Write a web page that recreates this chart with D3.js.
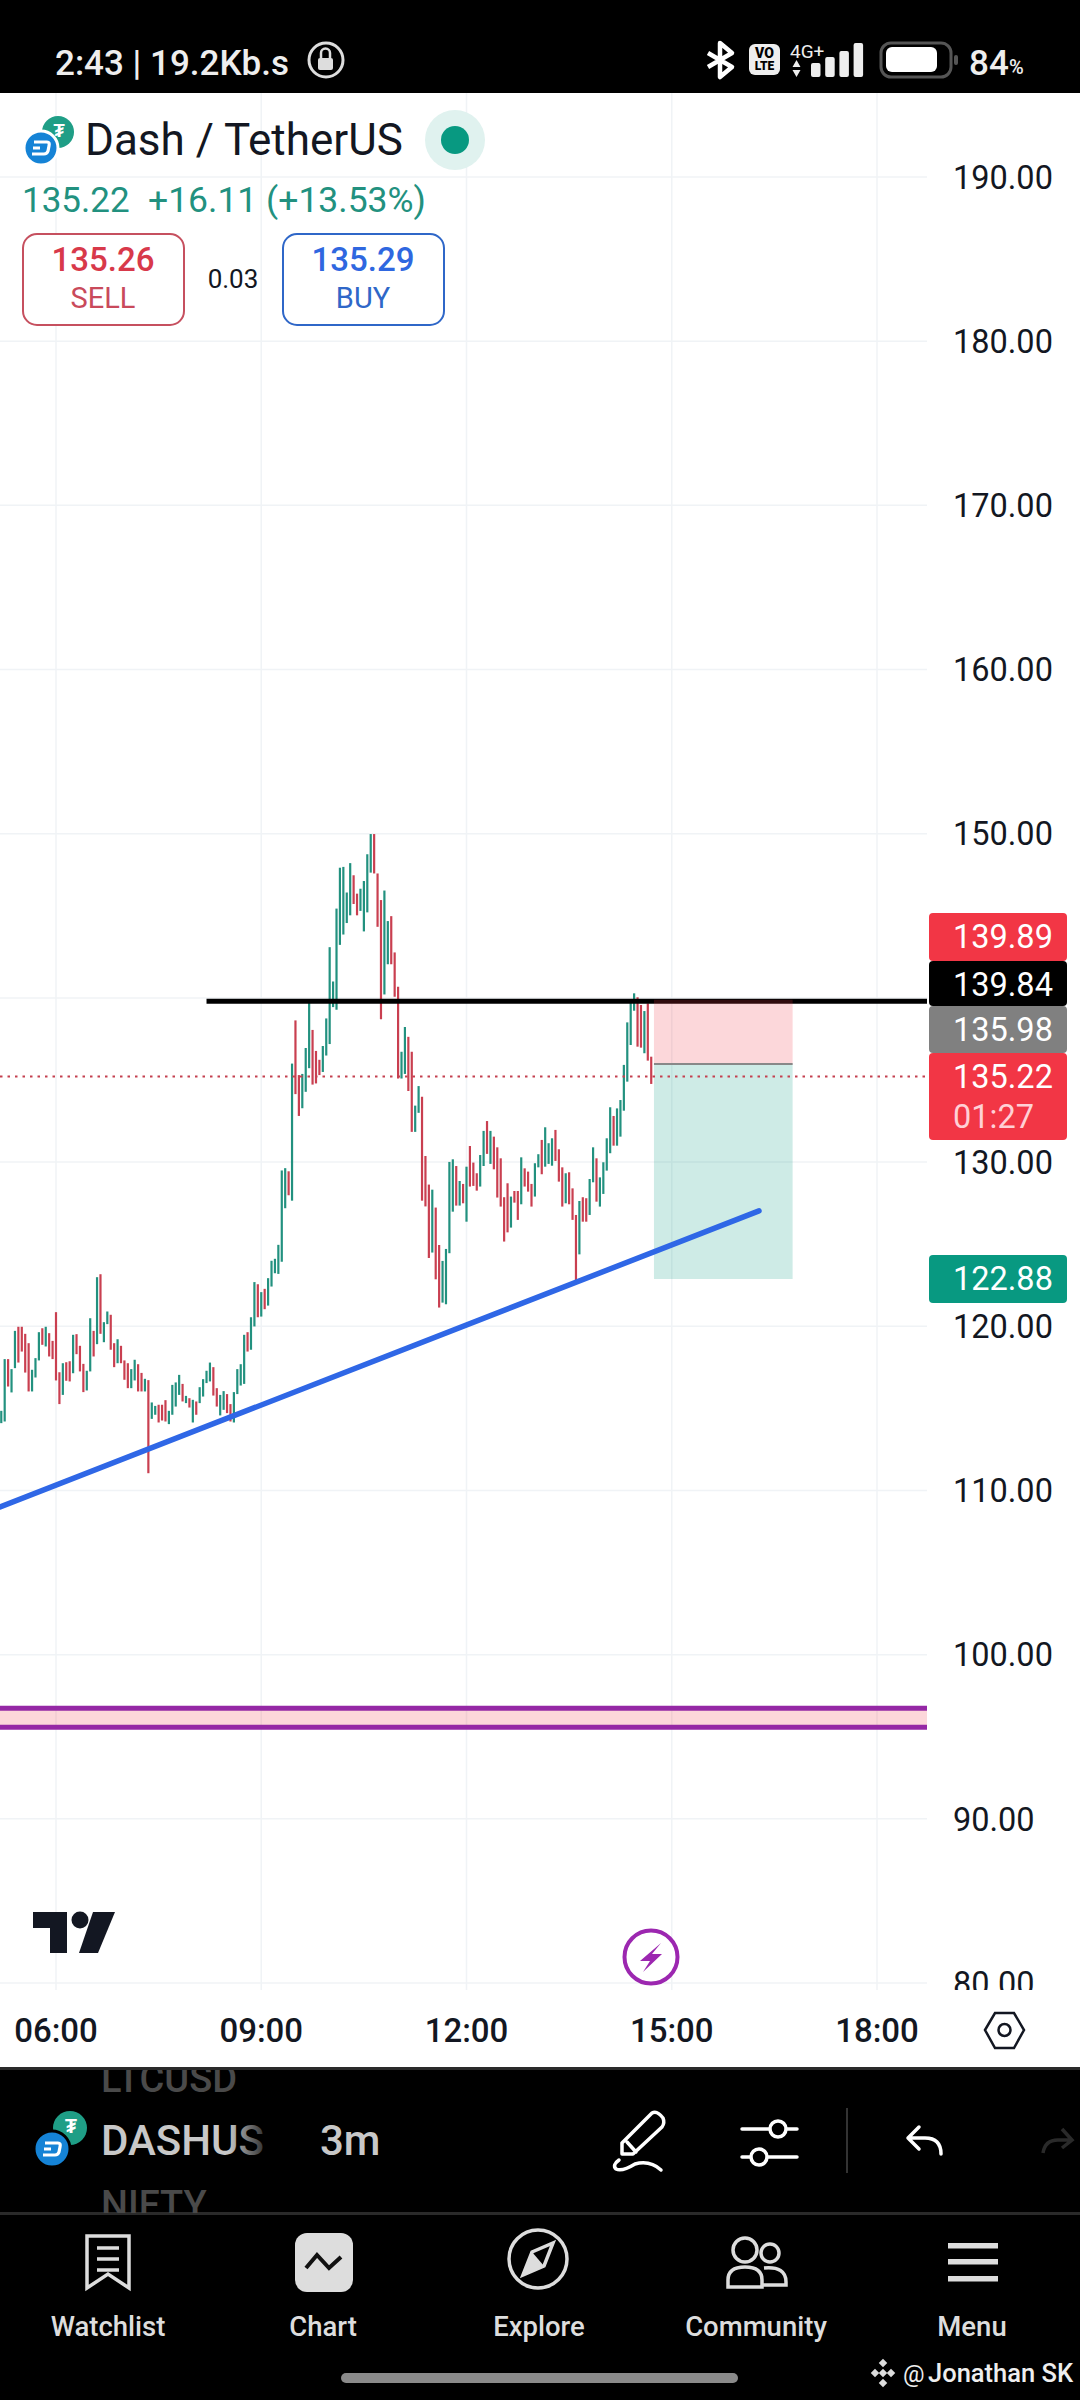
<!DOCTYPE html>
<html>
<head>
<meta charset="utf-8">
<script src="https://cdnjs.cloudflare.com/ajax/libs/d3/7.8.5/d3.min.js"></script>
<style>
html, body { margin: 0; padding: 0; background: #000; }
svg { display: block; font-family: Roboto, sans-serif; }
</style>
</head>
<body>
<div id="chart"></div>
<script>
// price ticks + time ticks
var priceTicks = [190, 180, 170, 160, 150, 140, 130, 120, 110, 100, 90, 80];
var hiddenTicks = [140]; // sits under the tags on the right
var timeTicks = [360, 540, 720, 900, 1080];
var timeLabels = ["06:00", "09:00", "12:00", "15:00", "18:00"];

// 3m candles, first one at 05:12
var firstCandle = 312;
var candleStep = 3;
var opens = [
  114.10, 114.20, 118.00, 115.97, 117.45, 119.97, 119.97, 119.54, 118.97, 116.03,
  116.88, 117.92, 119.88, 118.77, 119.58, 119.11, 120.86, 117.20, 115.82, 117.81,
  117.87, 117.14, 119.52, 118.81, 117.71, 116.09, 117.25, 119.72, 118.91, 123.17,
  119.03, 120.13, 120.70, 118.97, 117.75, 118.81, 117.92, 117.75, 116.23, 116.70,
  117.69, 117.16, 116.03, 116.72, 114.36, 114.61, 115.22, 115.22, 115.50, 114.04,
  114.61, 115.11, 115.82, 116.49, 115.32, 115.62, 114.14, 115.42, 115.32, 115.72,
  116.54, 116.64, 117.51, 116.23, 114.57, 114.91, 115.87, 115.26, 114.14, 115.87,
  116.39, 116.49, 119.64, 118.57, 119.99, 122.56, 120.59, 122.28, 121.26, 122.42,
  123.23, 123.19, 123.93, 127.19, 129.44, 127.65, 138.63, 135.30, 133.28, 134.28,
  135.72, 138.05, 136.77, 136.23, 135.49, 136.49, 137.19, 139.44, 139.28, 143.23,
  143.86, 144.56, 145.03, 147.47, 146.35, 145.30, 144.05, 145.21, 147.63, 149.98,
  147.58, 145.96, 140.21, 142.05, 144.98, 142.77, 140.68, 135.09, 135.37, 137.63,
  136.72, 131.84, 133.00, 133.98, 130.37, 128.63, 124.49, 127.23, 124.95, 121.44,
  121.34, 124.45, 126.98, 129.76, 127.35, 128.67, 126.37, 130.98, 129.97, 129.32,
  128.51, 129.76, 132.50, 129.89, 131.55, 130.90, 130.23, 127.86, 128.71, 126.01,
  128.24, 128.24, 127.43, 129.62, 129.42, 128.67, 127.90, 129.68, 131.35, 129.72,
  129.89, 129.78, 131.96, 130.78, 129.68, 127.49, 129.38, 128.40, 126.78, 124.38,
  127.86, 127.80, 126.78, 128.77, 130.23, 127.29, 128.06, 129.48, 130.54, 132.81,
  131.00, 131.55, 133.13, 134.90, 137.13, 139.22, 140.04, 139.57, 136.63, 139.67,
  136.42
];
var closes = [
  114.85, 118.00, 116.33, 117.39, 119.72, 117.79, 118.46, 117.18, 116.03, 117.35,
  118.06, 119.64, 118.87, 119.97, 118.16, 118.00, 116.70, 115.26, 117.75, 116.68,
  116.64, 119.48, 118.30, 117.25, 115.99, 117.29, 120.49, 118.16, 122.99, 119.54,
  120.25, 120.90, 118.57, 117.51, 119.21, 117.75, 116.74, 116.23, 117.39, 117.96,
  116.03, 116.03, 116.80, 111.05, 115.36, 115.15, 114.14, 114.26, 114.20, 114.85,
  116.43, 116.58, 117.04, 115.42, 115.76, 115.05, 115.52, 114.61, 116.29, 116.78,
  117.29, 117.79, 115.78, 115.11, 115.82, 116.05, 114.71, 114.20, 115.99, 117.39,
  117.69, 119.48, 118.46, 120.55, 122.69, 120.55, 122.08, 121.04, 122.93, 123.99,
  124.11, 124.96, 129.49, 129.63, 127.98, 136.00, 134.14, 132.81, 135.37, 136.95,
  139.79, 134.72, 134.79, 135.30, 137.07, 138.75, 143.09, 141.00, 145.44, 147.93,
  147.98, 146.42, 148.21, 145.72, 145.03, 146.65, 147.12, 148.75, 149.98, 147.58,
  144.33, 138.70, 146.54, 144.68, 142.05, 140.07, 135.09, 136.72, 138.23, 134.33,
  131.84, 133.44, 134.63, 127.65, 127.30, 124.16, 128.32, 122.86, 121.14, 123.98,
  124.71, 130.01, 130.17, 127.35, 128.85, 127.49, 129.72, 128.51, 128.55, 128.26,
  130.43, 131.90, 130.50, 131.90, 129.56, 127.84, 127.29, 125.16, 125.72, 127.90,
  127.53, 126.48, 130.29, 128.51, 128.20, 127.29, 129.93, 130.48, 129.26, 132.12,
  131.15, 131.45, 130.07, 128.81, 127.29, 129.32, 127.43, 126.48, 122.72, 127.63,
  126.37, 126.37, 128.97, 130.90, 127.59, 129.07, 129.99, 131.45, 133.34, 131.00,
  133.27, 133.78, 135.92, 138.51, 139.87, 140.28, 137.03, 136.97, 139.20, 136.18,
  134.76
];

// drawings on the chart
var resistance = {price: 139.8, from: 492, to: 1132};
var trendTimes = [311, 976.5];
var trendPrices = [109.0, 127.03];
var shortEntry = 135.98, shortStop = 139.89, shortTarget = 122.88;
var shortTimes = [884.4, 1006];
var lastPrice = 135.22;
var bandPrices = [96.73, 95.57];

// right side price tags
var tagPrices = [139.89, 139.84, 135.98, 135.22, 122.88];
var tagColors = ["#f23645", "#000000", "#808080", "#f23645", "#089981"];

var W = 1080, H = 2400;
var plotRight = 927, plotTop = 93, plotBottom = 1990;

var svg = d3.select("#chart").append("svg")
  .attr("width", W).attr("height", H)
  .attr("viewBox", "0 0 " + W + " " + H);

var y = d3.scaleLinear().domain([190, 80]).range([177, 1983]);
var x = d3.scaleLinear().domain([360, 1080]).range([56, 877]);

// backgrounds
svg.append("rect").attr("width", W).attr("height", H).attr("fill", "#000");
svg.append("rect").attr("y", plotTop).attr("width", W).attr("height", 2067 - plotTop).attr("fill", "#fff");

var defs = svg.append("defs");
defs.append("clipPath").attr("id", "plot").append("rect")
  .attr("width", plotRight).attr("y", plotTop).attr("height", plotBottom - plotTop);
defs.append("clipPath").attr("id", "axisclip").append("rect")
  .attr("x", plotRight).attr("y", plotTop).attr("width", W - plotRight).attr("height", plotBottom - plotTop);
defs.append("clipPath").attr("id", "sym").append("rect")
  .attr("y", 2070).attr("width", 600).attr("height", 143);
var fade = defs.append("linearGradient").attr("id", "fade");
fade.append("stop").attr("offset", "0.78").attr("stop-color", "#c8c8c8");
fade.append("stop").attr("offset", "1").attr("stop-color", "#333");

// grid
var grid = svg.append("g").attr("stroke", "#f0f3f6").attr("stroke-width", 1.5);
grid.selectAll(".h").data(priceTicks).enter().append("line")
  .attr("x1", 0).attr("x2", plotRight)
  .attr("y1", function(d) { return y(d); }).attr("y2", function(d) { return y(d); });
grid.selectAll(".v").data(timeTicks).enter().append("line")
  .attr("y1", plotTop).attr("y2", plotBottom)
  .attr("x1", function(d) { return x(d); }).attr("x2", function(d) { return x(d); });

var plot = svg.append("g").attr("clip-path", "url(#plot)");

// purple band
plot.append("rect").attr("x", 0).attr("width", plotRight)
  .attr("y", y(bandPrices[0])).attr("height", y(bandPrices[1]) - y(bandPrices[0]))
  .attr("fill", "#f23645").attr("fill-opacity", 0.2);
plot.selectAll(".band").data(bandPrices).enter().append("line")
  .attr("x1", 0).attr("x2", plotRight)
  .attr("y1", function(d) { return y(d); }).attr("y2", function(d) { return y(d); })
  .attr("stroke", "#9528a5").attr("stroke-width", 5);

// candles, too squeezed here to show wick vs body
plot.selectAll(".candle").data(opens).enter().append("line")
  .attr("x1", function(d, i) { return x(firstCandle + i * candleStep); })
  .attr("x2", function(d, i) { return x(firstCandle + i * candleStep); })
  .attr("y1", function(d) { return y(d); })
  .attr("y2", function(d, i) { return y(closes[i]); })
  .attr("stroke", function(d, i) { return closes[i] >= d ? "#22917f" : "#c93f50"; })
  .attr("stroke-width", 2.2);

// resistance goes under the position box
plot.append("line").attr("x1", x(resistance.from)).attr("x2", x(resistance.to))
  .attr("y1", y(resistance.price)).attr("y2", y(resistance.price))
  .attr("stroke", "#000").attr("stroke-width", 5);

// short position box
plot.append("rect").attr("x", x(shortTimes[0])).attr("width", x(shortTimes[1]) - x(shortTimes[0]))
  .attr("y", y(shortStop)).attr("height", y(shortEntry) - y(shortStop))
  .attr("fill", "#f23645").attr("fill-opacity", 0.2);
plot.append("rect").attr("x", x(shortTimes[0])).attr("width", x(shortTimes[1]) - x(shortTimes[0]))
  .attr("y", y(shortEntry)).attr("height", y(shortTarget) - y(shortEntry))
  .attr("fill", "#089981").attr("fill-opacity", 0.2);
plot.append("line").attr("x1", x(shortTimes[0])).attr("x2", x(shortTimes[1]))
  .attr("y1", y(shortEntry)).attr("y2", y(shortEntry))
  .attr("stroke", "#888").attr("stroke-width", 2);

// last price dots
plot.append("line").attr("x1", 0).attr("x2", plotRight)
  .attr("y1", y(lastPrice)).attr("y2", y(lastPrice))
  .attr("stroke", "#c4404f").attr("stroke-width", 2).attr("stroke-dasharray", "2.5 5");

// trend
plot.append("line").attr("x1", x(trendTimes[0])).attr("x2", x(trendTimes[1]))
  .attr("y1", y(trendPrices[0])).attr("y2", y(trendPrices[1]))
  .attr("stroke", "#2f67e6").attr("stroke-width", 5.5).attr("stroke-linecap", "round");

// price axis text
svg.append("g").attr("clip-path", "url(#axisclip)").selectAll("text")
  .data(priceTicks.filter(function(d) { return hiddenTicks.indexOf(d) < 0; })).enter().append("text")
  .attr("x", 953).attr("y", function(d) { return y(d); })
  .attr("dy", "0.36em").attr("font-size", 32.5).attr("fill", "#131722")
  .text(function(d) { return d.toFixed(2); });

// price tags
var tagTops = [913, 961, 1006, 1053, 1255];
var tagBottoms = [961, 1006, 1053, 1140, 1303];
var tags = svg.append("g");
tagPrices.forEach(function(p, i) {
  tags.append("rect").attr("x", 929).attr("width", 138).attr("y", tagTops[i])
    .attr("height", tagBottoms[i] - tagTops[i]).attr("rx", 4).attr("fill", tagColors[i]);
});
tagPrices.forEach(function(p, i) {
  tags.append("text").attr("x", 953).attr("y", tagTops[i] + 23).attr("dy", "0.36em")
    .attr("font-size", 32.5).attr("fill", "#fff").text(p.toFixed(2));
});
tags.append("text").attr("x", 953).attr("y", 1116).attr("dy", "0.36em")
  .attr("font-size", 32.5).attr("fill", "#ffd0d5").text("01:27");

// time axis
svg.append("g").selectAll("text").data(timeTicks).enter().append("text")
  .attr("x", function(d) { return x(d); }).attr("y", 2030).attr("dy", "0.36em")
  .attr("text-anchor", "middle").attr("font-size", 33).attr("font-weight", 500).attr("fill", "#131722")
  .text(function(d, i) { return timeLabels[i]; });

// gear
svg.append("path").attr("d", "M985 2030 L995 2013 L1014 2013 L1024 2030 L1014 2048 L995 2048 Z")
  .attr("fill", "none").attr("stroke", "#131722").attr("stroke-width", 2.5);
svg.append("circle").attr("cx", 1004.5).attr("cy", 2030).attr("r", 6)
  .attr("fill", "none").attr("stroke", "#131722").attr("stroke-width", 2.5);

// coin pair, used twice
function coinPair(tx, ty, bx, by, r, ring) {
  svg.append("circle").attr("cx", tx).attr("cy", ty).attr("r", r).attr("fill", "#1f9e86");
  svg.append("text").attr("x", tx + 1).attr("y", ty - 2).attr("dy", "0.36em").attr("text-anchor", "middle")
    .attr("font-size", r * 1.15).attr("font-weight", 700).attr("fill", "#fff").text("₮");
  svg.append("circle").attr("cx", bx).attr("cy", by).attr("r", r + 1).attr("fill", "#1583d6")
    .attr("stroke", ring).attr("stroke-width", 3);
  svg.append("path")
    .attr("d", "M" + (bx - 7) + " " + (by - 6) + " H" + (bx + 6) + " Q" + (bx + 9) + " " + (by - 6) + " " + (bx + 8) + " " + (by - 2)
      + " L" + (bx + 7) + " " + (by + 3) + " Q" + (bx + 6) + " " + (by + 6) + " " + (bx + 3) + " " + (by + 6) + " H" + (bx - 9)
      + " M" + (bx - 8) + " " + by + " H" + (bx - 1))
    .attr("fill", "none").attr("stroke", "#fff").attr("stroke-width", 3.2);
}

// header legend
coinPair(58, 132, 41, 148, 16, "#fff");
svg.append("text").attr("x", 85).attr("y", 139).attr("dy", "0.36em").attr("font-size", 44).attr("fill", "#131722").text("Dash / TetherUS");
svg.append("circle").attr("cx", 455).attr("cy", 140).attr("r", 30).attr("fill", "#e0f2ef");
svg.append("circle").attr("cx", 455).attr("cy", 140).attr("r", 14).attr("fill", "#089981");

svg.append("text").attr("x", 22).attr("y", 199).attr("dy", "0.36em").attr("font-size", 35).attr("fill", "#22917f").text("135.22");
svg.append("text").attr("x", 148).attr("y", 199).attr("dy", "0.36em").attr("font-size", 35.5).attr("fill", "#22917f").text("+16.11 (+13.53%)");

svg.append("rect").attr("x", 23).attr("y", 234).attr("width", 161).attr("height", 91).attr("rx", 14)
  .attr("fill", "#fff").attr("stroke", "#c6505f").attr("stroke-width", 2);
svg.append("text").attr("x", 103).attr("y", 259).attr("dy", "0.36em").attr("text-anchor", "middle").attr("font-size", 33).attr("font-weight", 500).attr("fill", "#d8394a").text("135.26");
svg.append("text").attr("x", 103).attr("y", 298).attr("dy", "0.36em").attr("text-anchor", "middle").attr("font-size", 29).attr("fill", "#c94a5b").text("SELL");
svg.append("text").attr("x", 233).attr("y", 279).attr("dy", "0.36em").attr("text-anchor", "middle").attr("font-size", 26).attr("fill", "#131722").text("0.03");
svg.append("rect").attr("x", 283).attr("y", 234).attr("width", 161).attr("height", 91).attr("rx", 14)
  .attr("fill", "#fff").attr("stroke", "#2f67c8").attr("stroke-width", 2);
svg.append("text").attr("x", 363).attr("y", 259).attr("dy", "0.36em").attr("text-anchor", "middle").attr("font-size", 33).attr("font-weight", 500).attr("fill", "#2f67e0").text("135.29");
svg.append("text").attr("x", 363).attr("y", 298).attr("dy", "0.36em").attr("text-anchor", "middle").attr("font-size", 29).attr("fill", "#2f67c8").text("BUY");

// tradingview mark
svg.append("path").attr("d", "M33 1912 H67 V1953 H50 V1928 H33 Z").attr("fill", "#131722");
svg.append("circle").attr("cx", 80).attr("cy", 1920).attr("r", 8.5).attr("fill", "#131722");
svg.append("path").attr("d", "M93 1912 H115 L98 1953 H79 Z").attr("fill", "#131722");

// lightning badge
svg.append("circle").attr("cx", 651).attr("cy", 1957).attr("r", 26.5).attr("fill", "#fff").attr("stroke", "#9c27b0").attr("stroke-width", 4);
svg.append("path").attr("d", "M661 1943 L640 1961 L650 1961 L643 1972 L662 1954 L652 1954 Z").attr("fill", "#9c27b0");

// status bar
svg.append("text").attr("x", 55).attr("y", 62).attr("dy", "0.36em").attr("font-size", 35).attr("font-weight", 500).attr("fill", "#eee").text("2:43 | 19.2Kb.s");
svg.append("circle").attr("cx", 326).attr("cy", 60).attr("r", 17).attr("fill", "none").attr("stroke", "#ddd").attr("stroke-width", 3);
svg.append("rect").attr("x", 318).attr("y", 58).attr("width", 15).attr("height", 12).attr("rx", 2).attr("fill", "#ddd");
svg.append("path").attr("d", "M321 58 v-5 a4.5 4.5 0 0 1 9 0 v5").attr("fill", "none").attr("stroke", "#ddd").attr("stroke-width", 2.5);

svg.append("path").attr("d", "M708 53 L732 67 L720 77 L720 43 L732 53 L708 67")
  .attr("fill", "none").attr("stroke", "#fff").attr("stroke-width", 4.5).attr("stroke-linejoin", "round");
svg.append("rect").attr("x", 749).attr("y", 44).attr("width", 31).attr("height", 31).attr("rx", 6).attr("fill", "#eee");
svg.append("text").attr("x", 764.5).attr("y", 53).attr("dy", "0.36em").attr("text-anchor", "middle").attr("font-size", 14).attr("font-weight", 900).attr("fill", "#000").text("VO");
svg.append("text").attr("x", 764.5).attr("y", 66).attr("dy", "0.36em").attr("text-anchor", "middle").attr("font-size", 12).attr("font-weight", 900).attr("fill", "#000").text("LTE");
svg.append("text").attr("x", 790).attr("y", 51).attr("dy", "0.36em").attr("font-size", 19).attr("fill", "#eee").text("4G+");
svg.append("path").attr("d", "M796.5 60 l-4 7 h8 Z M796.5 77 l-4 -7 h8 Z").attr("fill", "#eee");
var signalTops = [63, 57, 51, 43];
signalTops.forEach(function(t, i) {
  svg.append("rect").attr("x", 811 + i * 14.2).attr("y", t).attr("width", 9.5).attr("height", 77 - t).attr("rx", 2).attr("fill", "#eee");
});
svg.append("rect").attr("x", 881).attr("y", 43).attr("width", 70).attr("height", 34).attr("rx", 10).attr("fill", "none").attr("stroke", "#555").attr("stroke-width", 3);
svg.append("rect").attr("x", 886).attr("y", 47).attr("width", 51).attr("height", 25).attr("rx", 6).attr("fill", "#fff");
svg.append("rect").attr("x", 954).attr("y", 55).attr("width", 4).attr("height", 10).attr("rx", 2).attr("fill", "#555");
svg.append("text").attr("x", 969).attr("y", 62).attr("dy", "0.36em").attr("font-size", 35).attr("font-weight", 500).attr("fill", "#eee").text("84");
svg.append("text").attr("x", 1009).attr("y", 67).attr("dy", "0.36em").attr("font-size", 20).attr("font-weight", 500).attr("fill", "#eee").text("%");

// symbol toolbar
svg.append("rect").attr("y", 2067).attr("width", W).attr("height", 3).attr("fill", "#2a2a2a");
svg.append("rect").attr("y", 2212).attr("width", W).attr("height", 3).attr("fill", "#2a2a2a");
var sym = svg.append("g").attr("clip-path", "url(#sym)");
sym.append("text").attr("x", 101).attr("y", 2078).attr("dy", "0.36em").attr("font-size", 38).attr("font-weight", 500).attr("fill", "#4a4a4a").text("LTCUSD");
sym.append("text").attr("x", 101).attr("y", 2204).attr("dy", "0.36em").attr("font-size", 38).attr("font-weight", 500).attr("fill", "#4a4a4a").text("NIFTY");
svg.append("text").attr("x", 101).attr("y", 2140).attr("dy", "0.36em").attr("font-size", 42).attr("font-weight", 500).attr("fill", "url(#fade)").text("DASHUS");
svg.append("text").attr("x", 320).attr("y", 2140).attr("dy", "0.36em").attr("font-size", 42).attr("font-weight", 500).attr("fill", "#c8c8c8").text("3m");
coinPair(70, 2128, 52, 2149, 17, "#000");

var ic = svg.append("g").attr("fill", "none").attr("stroke", "#fff").attr("stroke-width", 3.5).attr("stroke-linecap", "round").attr("stroke-linejoin", "round");
ic.append("path").attr("d", "M622 2143 L652 2113 Q657 2110 663 2118 Q665 2123 662 2127 L633 2154 L622 2154 Z M627 2142 L636 2152");
ic.append("path").attr("d", "M619 2160 Q612 2165 616 2169 Q622 2172 635 2164 Q650 2160 661 2170");
ic.append("line").attr("x1", 742).attr("x2", 797).attr("y1", 2129).attr("y2", 2129);
ic.append("line").attr("x1", 742).attr("x2", 797).attr("y1", 2157).attr("y2", 2157);
ic.append("circle").attr("cx", 778).attr("cy", 2129).attr("r", 8).attr("fill", "#000");
ic.append("circle").attr("cx", 759).attr("cy", 2157).attr("r", 8).attr("fill", "#000");
svg.append("line").attr("x1", 847).attr("x2", 847).attr("y1", 2108).attr("y2", 2173).attr("stroke", "#333").attr("stroke-width", 2);
ic.append("path").attr("d", "M919 2127 L908 2138 L919 2149 M908 2138 H925 Q941 2138 941 2154");
svg.append("path").attr("d", "M1043 2153 Q1045 2140 1058 2140 H1072 M1062 2129 L1072 2140 L1062 2148")
  .attr("fill", "none").attr("stroke", "#2a2a2a").attr("stroke-width", 3.5);

// nav bar
var navX = [108, 323, 539, 756, 972];
var navLabels = ["Watchlist", "Chart", "Explore", "Community", "Menu"];
svg.append("g").selectAll("text").data(navLabels).enter().append("text")
  .attr("x", function(d, i) { return navX[i]; }).attr("y", 2326).attr("dy", "0.36em")
  .attr("text-anchor", "middle").attr("font-size", 27.5).attr("font-weight", 500).attr("fill", "#ddd")
  .text(function(d) { return d; });

var nav = svg.append("g").attr("fill", "none").attr("stroke", "#ddd").attr("stroke-width", 3.5);
nav.append("path").attr("d", "M87 2236 L129 2236 L129 2288 L108 2274 L87 2288 Z");
nav.append("path").attr("d", "M97 2248 H119 M97 2259 H119 M97 2270 H119");
svg.append("rect").attr("x", 295).attr("y", 2233).attr("width", 58).attr("height", 59).attr("rx", 12).attr("fill", "#ddd");
svg.append("path").attr("d", "M306 2268 L317 2255 L329 2268 L341 2257").attr("fill", "none").attr("stroke", "#111").attr("stroke-width", 4);
nav.append("circle").attr("cx", 538).attr("cy", 2259).attr("r", 29);
nav.append("path").attr("d", "M523 2275 L532 2252 L553 2243 L544 2266 Z");
svg.append("path").attr("d", "M523 2275 L532 2252 L544 2266 Z").attr("fill", "#ddd");
nav.append("circle").attr("cx", 745).attr("cy", 2250).attr("r", 12);
nav.append("circle").attr("cx", 770).attr("cy", 2253).attr("r", 9);
nav.append("path").attr("d", "M728 2287 V2280 Q728 2267 745 2267 Q762 2267 762 2280 V2287 Z");
nav.append("path").attr("d", "M764 2268 Q786 2266 786 2282 V2285 L762 2285");
svg.append("g").attr("fill", "#ddd").selectAll("rect").data([2243, 2259, 2276]).enter().append("rect")
  .attr("x", 948).attr("width", 50).attr("height", 5.5).attr("y", function(d) { return d; });

svg.append("rect").attr("x", 341).attr("y", 2373).attr("width", 397).attr("height", 10).attr("rx", 5).attr("fill", "#8a8a8a");

// watermark
svg.append("text").attr("x", 903).attr("y", 2373).attr("dy", "0.36em").attr("font-size", 24).attr("fill", "#eee").text("@");
svg.append("text").attr("x", 928).attr("y", 2373).attr("dy", "0.36em").attr("font-size", 25.5).attr("font-weight", 500).attr("fill", "#eee").text("Jonathan SK");
svg.append("g").attr("fill", "#ddd").selectAll("rect").data([[883, 2363], [875, 2373], [883, 2373], [891, 2373], [883, 2383]]).enter().append("rect")
  .attr("x", function(d) { return d[0] - 3; }).attr("y", function(d) { return d[1] - 3; }).attr("width", 6).attr("height", 6)
  .attr("transform", function(d) { return "rotate(45 " + d[0] + " " + d[1] + ")"; });
</script>
</body>
</html>
